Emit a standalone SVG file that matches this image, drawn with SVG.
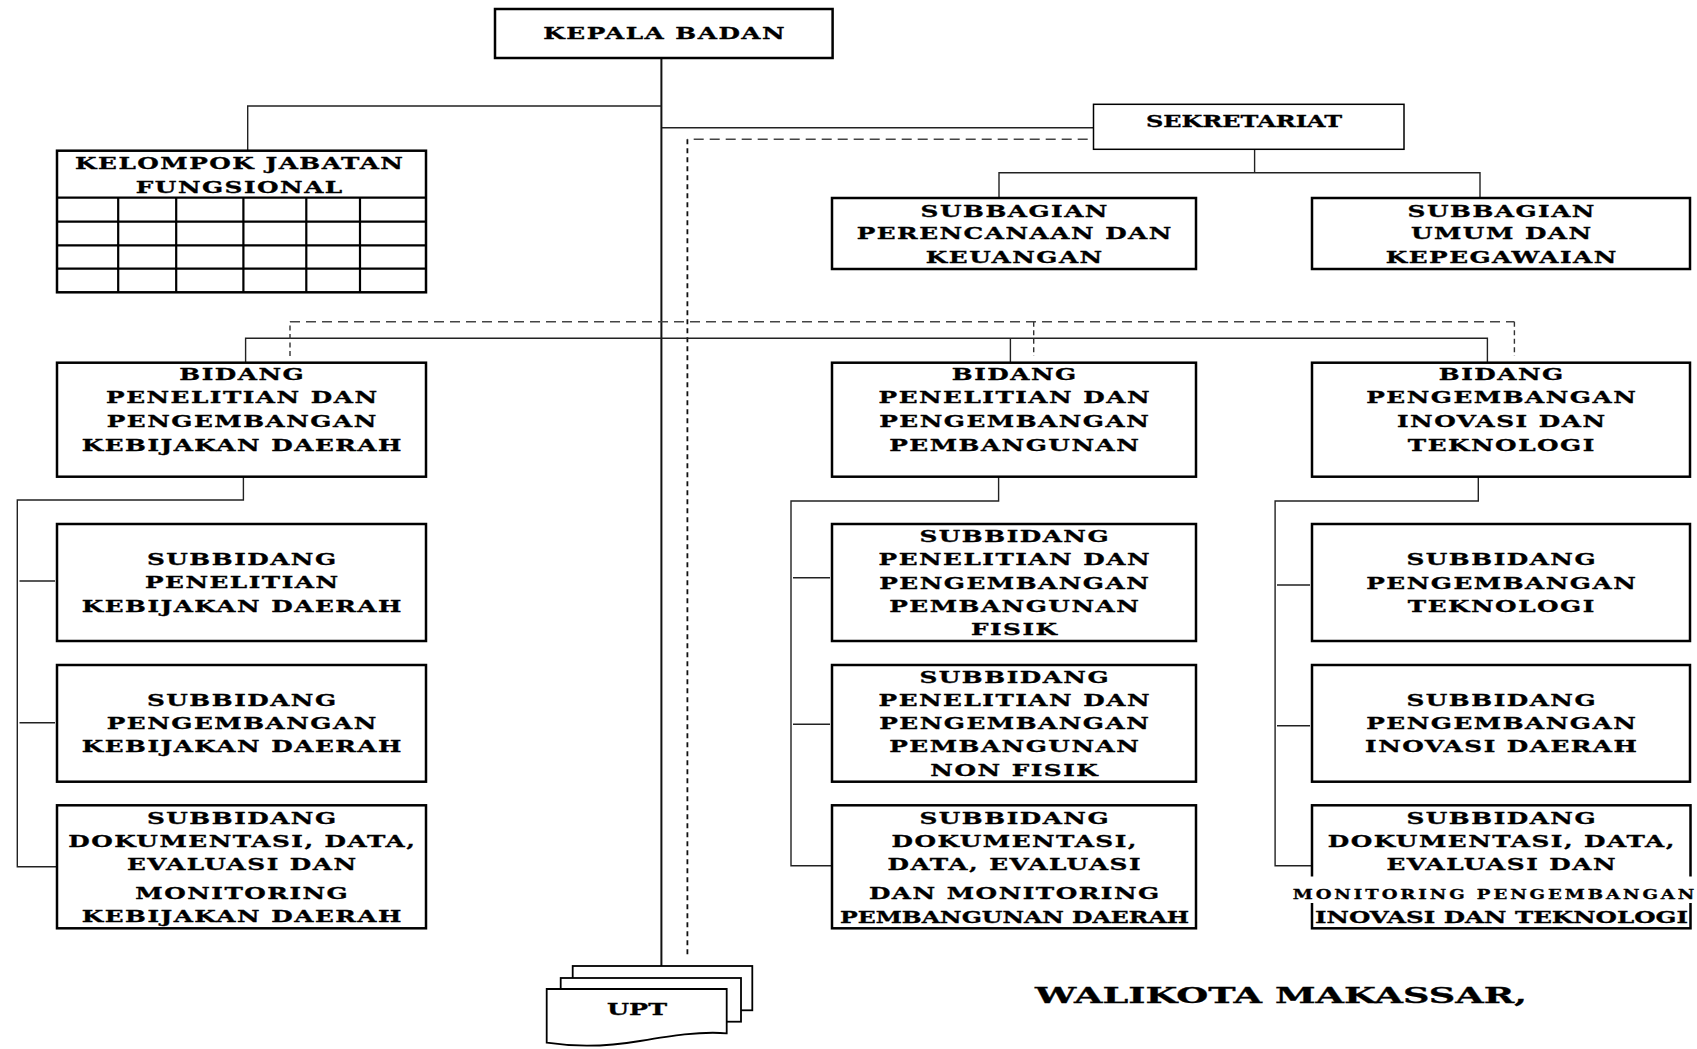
<svg xmlns="http://www.w3.org/2000/svg" width="1697" height="1049" viewBox="0 0 1697 1049">
<style>
.bx{fill:#fff;stroke:#000;stroke-width:2.5}
.bt{fill:#fff;stroke:#000;stroke-width:1.5}
.c{fill:none;stroke:#222;stroke-width:1.4}
.tr{fill:none;stroke:#111;stroke-width:2}
.dh{fill:none;stroke:#444;stroke-width:1.4;stroke-dasharray:10 6}
.dv{fill:none;stroke:#111;stroke-width:1.8;stroke-dasharray:5 4}
.ds{fill:none;stroke:#333;stroke-width:1.4;stroke-dasharray:5 3.5}
.g{fill:none;stroke:#000;stroke-width:2.2}
.t{font-family:"DejaVu Serif",serif;font-weight:bold;font-size:16.5px;letter-spacing:1px;text-anchor:middle;fill:#000;stroke:#000;stroke-width:0.3px}
.s{font-family:"DejaVu Serif",serif;font-weight:bold;text-anchor:middle;fill:#000;stroke:#000;stroke-width:0.3px}
</style>
<rect width="1697" height="1049" fill="#fff"/>
<g id="connectors">
<path class="tr" d="M661.4,58 V966"/>
<path class="c" d="M661.4,106 H247.7 V150.7"/>
<path class="c" d="M662,127.7 H1094"/>
<path class="dh" d="M1087.7,139.3 H687.4"/>
<path class="dv" d="M687.4,139.3 V956.7"/>
<path class="c" d="M1254.6,149.3 V172.7"/>
<path class="c" d="M999,198 V172.7 H1480 V198"/>
<path class="c" d="M245.6,362.7 V338.3 H1487.4 V362.7"/>
<path class="c" d="M1010.4,338.3 V362.7"/>
<path class="ds" d="M290,356 V321.7"/>
<path class="dh" d="M290,321.7 H1514.4"/>
<path class="ds" d="M1514.4,321.7 V356"/>
<path class="ds" d="M1033.7,321.7 V356"/>
<path class="c" d="M243.4,476.7 V500 H17.3 V866.7 H56"/>
<path class="c" d="M19.5,581 H55 M19.5,722.7 H55"/>
<path class="c" d="M998.6,476.7 V501 H791 V865.7 H831"/>
<path class="c" d="M793,577.7 H830 M793,724.3 H830"/>
<path class="c" d="M1478.3,476.7 V501 H1275.1 V865.7 H1311"/>
<path class="c" d="M1277,585 H1310 M1277,725.7 H1310"/>
</g>
<g id="kepala-badan">
<rect class="bx" x="495" y="9" width="337.6" height="49"/>
<text class="t" transform="translate(664,0) scale(1.5,1)"><tspan x="0.5" y="39.3">KEPALA BADAN</tspan></text>
</g>
<g id="kelompok-jabatan-fungsional">
<rect class="bx" x="57" y="150.7" width="369" height="141.6"/>
<path class="g" d="M57,197.7 H426 M57,221.7 H426 M57,245.3 H426 M57,268.7 H426 M118.2,197.7 V292.3 M176.2,197.7 V292.3 M243.4,197.7 V292.3 M306.3,197.7 V292.3 M360,197.7 V292.3"/>
<text class="t" transform="translate(239,0) scale(1.5,1)"><tspan x="0.5" y="169.3">KELOMPOK JABATAN</tspan><tspan x="0.5" y="192.7">FUNGSIONAL</tspan></text>
</g>
<g id="sekretariat">
<rect class="bt" x="1093.5" y="104.3" width="310.5" height="45"/>
<text class="s" x="1244" y="126.8" font-size="17.5" textLength="196" lengthAdjust="spacingAndGlyphs" stroke-width="0.6">SEKRETARIAT</text>
</g>
<g id="subbagian-perencanaan">
<rect class="bx" x="832" y="198" width="364" height="71"/>
<text class="t" transform="translate(1014,0) scale(1.5,1)"><tspan x="0.5" y="216.7">SUBBAGIAN</tspan><tspan x="0.5" y="239.3">PERENCANAAN DAN</tspan><tspan x="0.5" y="263.3">KEUANGAN</tspan></text>
</g>
<g id="subbagian-umum">
<rect class="bx" x="1312" y="198" width="378" height="71"/>
<text class="t" transform="translate(1501,0) scale(1.5,1)"><tspan x="0.5" y="216.7">SUBBAGIAN</tspan><tspan x="0.5" y="239.3">UMUM DAN</tspan><tspan x="0.5" y="263.3">KEPEGAWAIAN</tspan></text>
</g>
<g id="bidang-kebijakan">
<rect class="bx" x="57" y="362.7" width="369" height="114"/>
<text class="t" transform="translate(241.5,0) scale(1.5,1)"><tspan x="0.5" y="380">BIDANG</tspan><tspan x="0.5" y="403.3">PENELITIAN DAN</tspan><tspan x="0.5" y="427.3">PENGEMBANGAN</tspan><tspan x="0.5" y="450.7">KEBIJAKAN DAERAH</tspan></text>
</g>
<g id="bidang-pembangunan">
<rect class="bx" x="832" y="362.7" width="364" height="114"/>
<text class="t" transform="translate(1014,0) scale(1.5,1)"><tspan x="0.5" y="380">BIDANG</tspan><tspan x="0.5" y="403.3">PENELITIAN DAN</tspan><tspan x="0.5" y="427.3">PENGEMBANGAN</tspan><tspan x="0.5" y="450.7">PEMBANGUNAN</tspan></text>
</g>
<g id="bidang-inovasi">
<rect class="bx" x="1312" y="362.7" width="378" height="114"/>
<text class="t" transform="translate(1501,0) scale(1.5,1)"><tspan x="0.5" y="380">BIDANG</tspan><tspan x="0.5" y="403.3">PENGEMBANGAN</tspan><tspan x="0.5" y="427.3">INOVASI DAN</tspan><tspan x="0.5" y="450.7">TEKNOLOGI</tspan></text>
</g>
<g id="sub-penelitian-kebijakan">
<rect class="bx" x="57" y="524" width="369" height="117"/>
<text class="t" transform="translate(241.5,0) scale(1.5,1)"><tspan x="0.5" y="565.3">SUBBIDANG</tspan><tspan x="0.5" y="588.3">PENELITIAN</tspan><tspan x="0.5" y="612">KEBIJAKAN DAERAH</tspan></text>
</g>
<g id="sub-pembangunan-fisik">
<rect class="bx" x="832" y="524" width="364" height="117"/>
<text class="t" transform="translate(1014,0) scale(1.5,1)"><tspan x="0.5" y="542">SUBBIDANG</tspan><tspan x="0.5" y="565.3">PENELITIAN DAN</tspan><tspan x="0.5" y="588.7">PENGEMBANGAN</tspan><tspan x="0.5" y="612">PEMBANGUNAN</tspan><tspan x="0.5" y="635.3">FISIK</tspan></text>
</g>
<g id="sub-pengembangan-teknologi">
<rect class="bx" x="1312" y="524" width="378" height="117"/>
<text class="t" transform="translate(1501,0) scale(1.5,1)"><tspan x="0.5" y="565.3">SUBBIDANG</tspan><tspan x="0.5" y="588.7">PENGEMBANGAN</tspan><tspan x="0.5" y="612">TEKNOLOGI</tspan></text>
</g>
<g id="sub-pengembangan-kebijakan">
<rect class="bx" x="57" y="665" width="369" height="116.7"/>
<text class="t" transform="translate(241.5,0) scale(1.5,1)"><tspan x="0.5" y="706">SUBBIDANG</tspan><tspan x="0.5" y="729.3">PENGEMBANGAN</tspan><tspan x="0.5" y="752">KEBIJAKAN DAERAH</tspan></text>
</g>
<g id="sub-pembangunan-non-fisik">
<rect class="bx" x="832" y="665" width="364" height="116.7"/>
<text class="t" transform="translate(1014,0) scale(1.5,1)"><tspan x="0.5" y="682.7">SUBBIDANG</tspan><tspan x="0.5" y="706">PENELITIAN DAN</tspan><tspan x="0.5" y="729.3">PENGEMBANGAN</tspan><tspan x="0.5" y="752">PEMBANGUNAN</tspan><tspan x="0.5" y="776.3">NON FISIK</tspan></text>
</g>
<g id="sub-inovasi-daerah">
<rect class="bx" x="1312" y="665" width="378" height="116.7"/>
<text class="t" transform="translate(1501,0) scale(1.5,1)"><tspan x="0.5" y="706">SUBBIDANG</tspan><tspan x="0.5" y="729.3">PENGEMBANGAN</tspan><tspan x="0.5" y="752">INOVASI DAERAH</tspan></text>
</g>
<g id="sub-dokumentasi-kebijakan">
<rect class="bx" x="57" y="805.3" width="369" height="123"/>
<text class="t" transform="translate(241.5,0) scale(1.5,1)"><tspan x="0.5" y="823.7">SUBBIDANG</tspan><tspan x="0.5" y="847">DOKUMENTASI, DATA,</tspan><tspan x="0.5" y="870.3">EVALUASI DAN</tspan><tspan x="0.5" y="899.3">MONITORING</tspan><tspan x="0.5" y="922">KEBIJAKAN DAERAH</tspan></text>
</g>
<g id="sub-dokumentasi-pembangunan">
<rect class="bx" x="832" y="805.3" width="364" height="123"/>
<text class="t" transform="translate(1014,0) scale(1.5,1)"><tspan x="0.5" y="823.7">SUBBIDANG</tspan><tspan x="0.5" y="847">DOKUMENTASI,</tspan><tspan x="0.5" y="870.3">DATA, EVALUASI</tspan><tspan x="0.5" y="899.3">DAN MONITORING</tspan></text>
<text class="s" x="1014.5" y="922.5" font-size="16.5" textLength="349" lengthAdjust="spacingAndGlyphs">PEMBANGUNAN DAERAH</text>
</g>
<g id="sub-dokumentasi-inovasi">
<rect class="bx" x="1312" y="805.3" width="378.5" height="123"/>
<rect x="1300" y="876.5" width="397" height="26.5" fill="#fff"/>
<text class="t" transform="translate(1501,0) scale(1.5,1)"><tspan x="0.5" y="823.7">SUBBIDANG</tspan><tspan x="0.5" y="847">DOKUMENTASI, DATA,</tspan><tspan x="0.5" y="870.3">EVALUASI DAN</tspan></text>
<text class="s" transform="translate(1493.5,0) scale(1.45,1)" x="0" y="899.3" font-size="12.5" textLength="277" lengthAdjust="spacing" stroke-width="0.2">MONITORING PENGEMBANGAN</text>
<text class="s" x="1501.5" y="922.5" font-size="16.5" textLength="373" lengthAdjust="spacingAndGlyphs">INOVASI DAN TEKNOLOGI</text>
</g>
<g id="upt">
<rect x="572.7" y="966" width="179.6" height="44.3" fill="#fff" stroke="#000" stroke-width="1.8"/>
<rect x="560.7" y="978" width="180.3" height="43.7" fill="#fff" stroke="#000" stroke-width="1.8"/>
<path d="M546.7,989 H726.7 V1033.3 C700,1031 670,1036 640,1041 C605,1047 575,1047 546.7,1042.7 Z" fill="#fff" stroke="#000" stroke-width="1.8"/>
<text class="s" x="637" y="1015.3" font-size="17" textLength="60" lengthAdjust="spacingAndGlyphs">UPT</text>
</g>
<g id="walikota">
<text class="s" x="1281" y="1003.3" font-size="22.5" textLength="492" lengthAdjust="spacingAndGlyphs">WALIKOTA MAKASSAR,</text>
</g>
</svg>
